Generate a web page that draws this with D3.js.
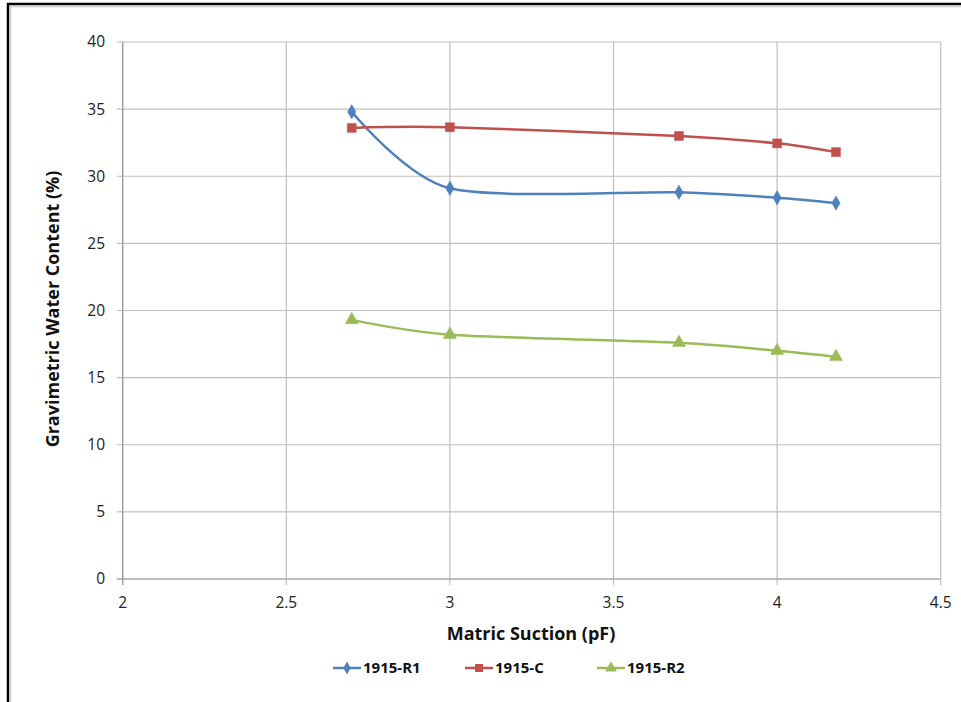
<!DOCTYPE html>
<html><head><meta charset="utf-8">
<script src="https://cdn.jsdelivr.net/npm/d3@7"></script>
<style>body{margin:0;background:#fff;} text{font-family:"Open Sans","Liberation Sans",sans-serif;}</style>
</head><body>
<svg id="c" width="961" height="702"></svg>
<script>
const xValues = [2.7, 3, 3.7, 4, 4.18];
const seriesNames = ["1915-R1", "1915-C", "1915-R2"];
const r1Values = [34.8, 29.1, 28.8, 28.4, 28.0];
const cValues = [33.6, 33.65, 33.0, 32.45, 31.8];
const r2Values = [19.3, 18.2, 17.6, 17.0, 16.55];
const xTicks = [2, 2.5, 3, 3.5, 4, 4.5];
const yTicks = [0, 5, 10, 15, 20, 25, 30, 35, 40];
const colors = ["#4F81BD", "#C0504D", "#9BBB59"];
const symbols = [d3.symbolDiamond, d3.symbolSquare, d3.symbolTriangle];

const svg = d3.select("#c");
// outer frame
svg.append("rect").attr("x", 8).attr("y", 4).attr("width", 970).attr("height", 720)
  .attr("fill", "none").attr("stroke", "#000").attr("stroke-width", 2.5);
svg.append("rect").attr("x", 10.5).attr("y", 6.5).attr("width", 970).attr("height", 720)
  .attr("fill", "none").attr("stroke", "#d0d0d0").attr("stroke-width", 1.5);

const x = d3.scaleLinear().domain([2, 4.5]).range([122.7, 940.7]);
const y = d3.scaleLinear().domain([0, 40]).range([579, 42]);

const g = svg.append("g");
// grid
g.selectAll(".hg").data(yTicks).join("line")
  .attr("x1", x(2) - 6).attr("x2", x(4.5)).attr("y1", d => y(d)).attr("y2", d => y(d))
  .attr("stroke", "#bfbfbf").attr("stroke-width", 1.2);
g.selectAll(".vg").data(xTicks).join("line")
  .attr("x1", d => x(d)).attr("x2", d => x(d)).attr("y1", y(40)).attr("y2", y(0) + 6)
  .attr("stroke", "#bfbfbf").attr("stroke-width", 1.2);
// axes lines
g.append("line").attr("x1", x(2)).attr("x2", x(2)).attr("y1", y(40)).attr("y2", y(0) + 6).attr("stroke", "#999").attr("stroke-width", 1.2);
g.append("line").attr("x1", x(2) - 6).attr("x2", x(4.5)).attr("y1", y(0)).attr("y2", y(0)).attr("stroke", "#999").attr("stroke-width", 1.2);

// tick labels
g.selectAll(".yl").data(yTicks).join("text")
  .attr("x", 105).attr("y", d => y(d)).attr("dy", "0.35em").attr("text-anchor", "end")
  .attr("font-size", 15.5).attr("fill", "#222").text(d => d);
g.selectAll(".xl").data(xTicks).join("text")
  .attr("x", d => x(d)).attr("y", 603).attr("dy", "0.35em").attr("text-anchor", "middle")
  .attr("font-size", 15.5).attr("fill", "#222").text(d => d);

// axis titles
svg.append("text").attr("transform", "translate(59,309) rotate(-90)").attr("text-anchor", "middle")
  .attr("font-size", 18).attr("font-weight", "bold").attr("fill", "#111").text("Gravimetric Water Content (%)");
svg.append("text").attr("x", 531).attr("y", 634).attr("dy", "0.35em").attr("text-anchor", "middle")
  .attr("font-size", 18).attr("font-weight", "bold").attr("fill", "#111").text("Matric Suction (pF)");

const allSeries = [r1Values, cValues, r2Values];
const line = d3.line().x((d, i) => x(xValues[i])).y(d => y(d)).curve(d3.curveCardinal.tension(0.2));
const sizes = [60, 80, 75];
allSeries.forEach((vals, si) => {
  svg.append("path").datum(vals).attr("d", line).attr("fill", "none")
    .attr("stroke", colors[si]).attr("stroke-width", 2.5);
  svg.selectAll(".m" + si).data(vals).join("path")
    .attr("transform", (d, i) => `translate(${x(xValues[i])},${y(d)})`)
    .attr("d", d3.symbol().type(symbols[si]).size(sizes[si])).attr("fill", colors[si]).attr("stroke", colors[si]).attr("stroke-width", 0.5);
});

// legend
const legX = [333, 465, 597];
seriesNames.forEach((name, si) => {
  const lg = svg.append("g").attr("transform", `translate(${legX[si]},668)`);
  lg.append("line").attr("x1", 0).attr("x2", 28).attr("y1", 0).attr("y2", 0).attr("stroke", colors[si]).attr("stroke-width", 2.5);
  lg.append("path").attr("transform", "translate(14,0)").attr("d", d3.symbol().type(symbols[si]).size(sizes[si] * 0.8)).attr("fill", colors[si]);
  lg.append("text").attr("x", 30).attr("y", 0).attr("dy", "0.35em").attr("font-size", 15).attr("font-weight", "bold").attr("fill", "#111").text(name);
});
</script>
</body></html>
